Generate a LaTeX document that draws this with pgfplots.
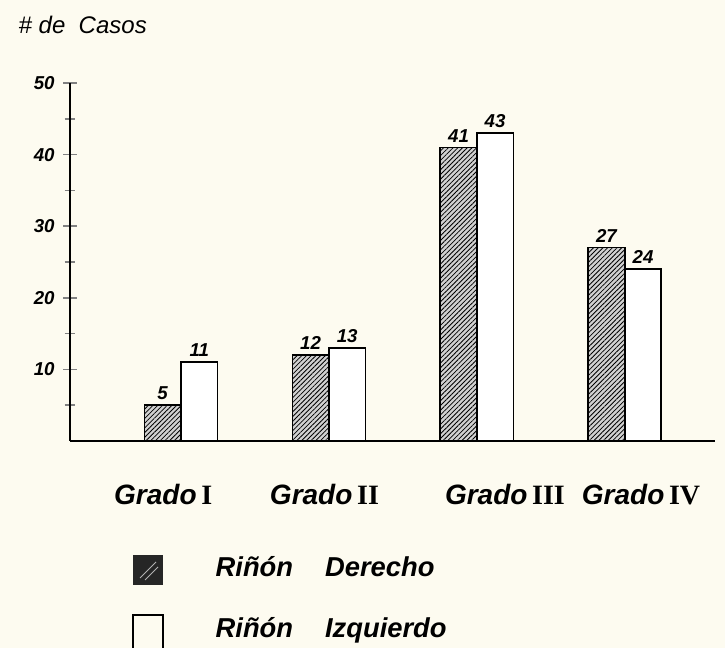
\documentclass[border=0pt]{standalone}
\usepackage{fontspec}
\setmainfont{Liberation Sans}
\newfontfamily\romfont{Liberation Serif}
\usepackage{pgfplots}
\pgfplotsset{compat=1.18}
\usetikzlibrary{patterns.meta}
\definecolor{paper}{HTML}{FDFBF0}
\newcommand\rn[1]{{\romfont\bfseries\upshape\fontsize{21}{22}\selectfont #1}}
\begin{document}
\begin{tikzpicture}[x=0.75pt,y=0.75pt]
\fill[paper] (0,0) rectangle (725,648);
\useasboundingbox (0,0) rectangle (725,648);
\begin{axis}[
  at={(52.5pt,155.25pt)}, anchor=south west,
  scale only axis, width=483.75pt, height=268.5pt,
  xmin=0.25, xmax=4.61, ymin=0, ymax=50,
  axis x line=bottom, axis y line=left,
  axis line style={-, line width=1.4pt},
  ytick={10,20,30,40,50},
  minor ytick={5,15,25,35,45},
  tick align=center,
  major tick length=10pt, minor tick length=8pt,
  ytick style={line width=1.1pt},
  yticklabel style={font=\bfseries\itshape\fontsize{14}{16}\selectfont, xshift=-3pt},
  /pgf/number format/assume math mode=true,
  xtick={0.88,1.97,3.19,4.11},
  xticklabels={{Grado\,\rn{I}},{Grado\,\rn{II}},{Grado\,\rn{III}},{Grado\,\rn{IV}}},
  x tick style={draw=none},
  xticklabel style={font=\bfseries\itshape\fontsize{21}{23}\selectfont, yshift=-19pt},
  ybar=0pt, bar width=27.4pt,
  nodes near coords,
  every node near coord/.append style={font=\bfseries\itshape\fontsize{14}{16}\selectfont},
  clip=false,
]
\addplot[draw=black, line width=1.2pt, fill=black!18,
  postaction={pattern={Lines[angle=45,distance=2.5pt,line width=0.6pt]}}]
  coordinates {(1,5) (2,12) (3,41) (4,27)};
\addplot[draw=black, line width=1.2pt, fill=white]
  coordinates {(1,11) (2,13) (3,43) (4,24)};
\end{axis}
\node[anchor=west, font=\itshape\fontsize{18}{20}\selectfont] at (14,623) {\#\ de\ \ Casos};
\fill[black!85] (133,63) rectangle (163,93);
\draw[white!70!black, line width=0.6pt] (140,70)--(156,86) (145,68)--(158,81);
\draw[line width=1.2pt] (133,0)--(133,33)--(163,33)--(163,0);
\node[anchor=west, font=\bfseries\itshape\fontsize{20.5}{22}\selectfont] at (211,81) {Riñón\hspace{24pt}Derecho};
\node[anchor=west, font=\bfseries\itshape\fontsize{20.5}{22}\selectfont] at (211,18) {Riñón\hspace{24pt}Izquierdo};
\end{tikzpicture}
\end{document}
